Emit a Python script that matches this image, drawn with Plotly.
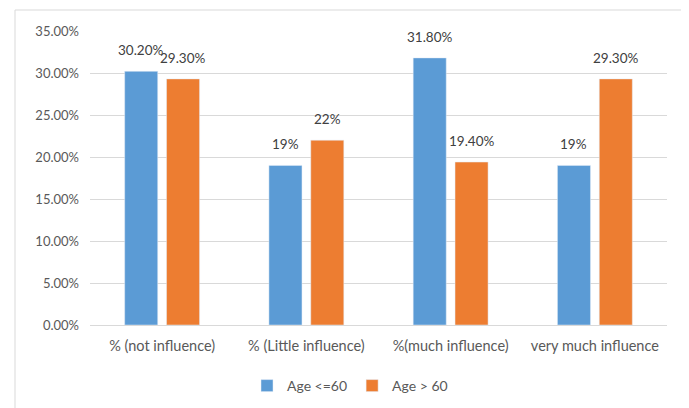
import plotly.graph_objects as go

categories = ["% (not influence)", "% (Little influence)", "%(much influence)", "very much influence"]
age_le_60 = [0.302, 0.19, 0.318, 0.19]
age_gt_60 = [0.293, 0.22, 0.194, 0.293]
labels_le_60 = ["30.20%", "19%", "31.80%", "19%"]
labels_gt_60 = ["29.30%", "22%", "19.40%", "29.30%"]
y_ticks = [0, 0.05, 0.10, 0.15, 0.20, 0.25, 0.30, 0.35]
y_tick_labels = ["0.00%", "5.00%", "10.00%", "15.00%", "20.00%", "25.00%", "30.00%", "35.00%"]

FONT = "Lato"
TXT = "#595959"

series = [("Age <=60", age_le_60, labels_le_60, "#5B9BD5", -21),
          ("Age > 60", age_gt_60, labels_gt_60, "#ED7D31", 21)]

fig = go.Figure()
for name, vals, labs, col, dx in series:
    fig.add_trace(go.Bar(name=name, x=categories, y=vals, marker_color=col))
    for c, v, t in zip(categories, vals, labs):
        fig.add_annotation(x=c, y=v, text=t, showarrow=False, xshift=dx, yshift=21,
                           yanchor="middle", xanchor="center",
                           font=dict(family=FONT, size=13.5, color="#404040"))

# page body has an 8px margin; work in page pixels and offset
OFF = 8
W, H = 689, 408
L, R, T, B = 90 - OFF, 30, 31 - OFF, 91
pw, ph = W - L - R, H - T - B

def px_x(x):
    return (x - OFF - L) / pw

def px_y(y):
    return (H - B - (y - OFF)) / ph

fig.add_shape(type="rect", xref="paper", yref="paper",
              x0=px_x(15), x1=px_x(685), y0=px_y(430), y1=px_y(10),
              line=dict(color="#D9D9D9", width=1), fillcolor="rgba(0,0,0,0)", layer="below")

fig.update_layout(
    width=W, height=H,
    margin=dict(l=L, r=R, t=T, b=B, autoexpand=False),
    paper_bgcolor="white", plot_bgcolor="white",
    barmode="group", bargap=0.42, bargroupgap=0.21,
    font=dict(family=FONT, size=13, color=TXT),
    showlegend=True,
    legend=dict(orientation="h", x=px_x(350), xanchor="center", y=px_y(386), yanchor="middle",
                font=dict(family=FONT, size=14, color=TXT), itemwidth=30,
                traceorder="normal"),
    xaxis=dict(showgrid=False, showline=True, linecolor="#D9D9D9", linewidth=1,
               automargin=False,
               ticks="", tickfont=dict(family=FONT, size=14.5, color=TXT), ticklabelstandoff=8),
    yaxis=dict(range=[0, 0.35], tickvals=y_ticks, ticktext=y_tick_labels,
               automargin=False,
               showgrid=True, gridcolor="#D9D9D9", gridwidth=1, zeroline=False,
               showline=False, ticks="", ticklabelstandoff=10,
               tickfont=dict(family=FONT, size=13, color=TXT)),
)

fig.write_html("out.html")
